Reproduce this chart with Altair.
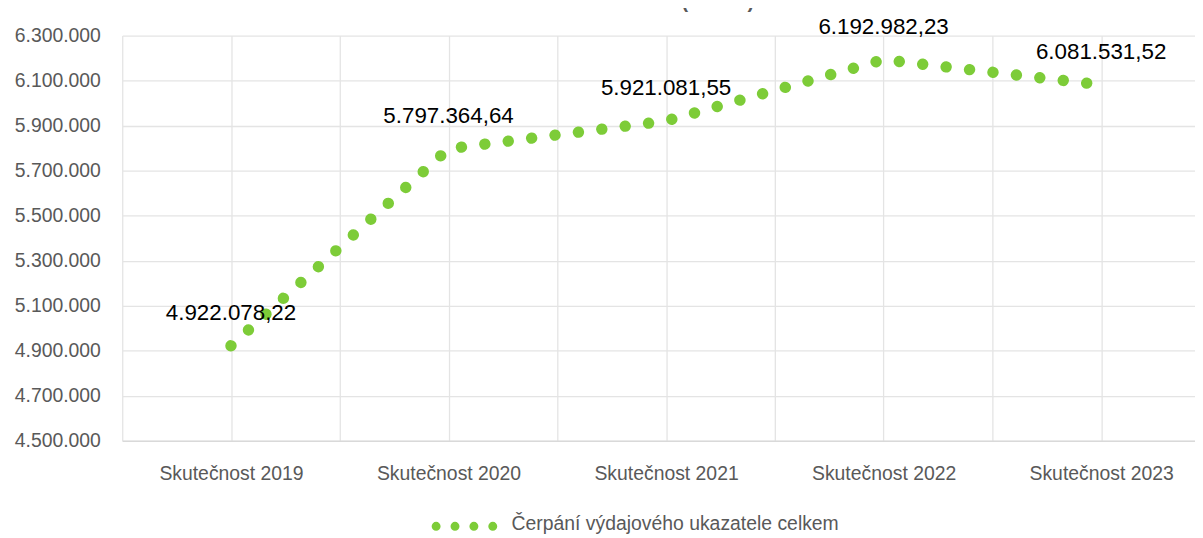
import altair as alt
import pandas as pd

# ---- data -------------------------------------------------------------
categories = ["Skutečnost 2019", "Skutečnost 2020", "Skutečnost 2021",
              "Skutečnost 2022", "Skutečnost 2023"]
values = [4922078.22, 5797364.64, 5921081.55, 6192982.23, 6081531.52]
series_name = "Čerpání výdajového ukazatele celkem"
title_text = "Plnění 2019–2023 (tis. Kč)"
y_ticks = [4500000, 4700000, 4900000, 5100000, 5300000, 5500000,
           5700000, 5900000, 6100000, 6300000]
x_grid = [-0.5, 0, 0.5, 1, 1.5, 2, 2.5, 3, 3.5, 4]


def cz(v):
    s = f"{v:,.2f}"
    return s.replace(",", "X").replace(".", ",").replace("X", ".")


df = pd.DataFrame({
    "idx": list(range(len(categories))),
    "kategorie": categories,
    "hodnota": values,
    "popisek": [cz(v) for v in values],
})
leg_df = pd.DataFrame({"legenda": [series_name], "titul": [title_text]})

GREEN = "#7dcc38"
FONT = "Liberation Sans"
W, H = 1080, 408

cat_js = "[" + ",".join("'" + c + "'" for c in categories) + "]"

x_enc = alt.X(
    "idx:Q",
    scale=alt.Scale(domain=[-0.5, -0.5 + W / 219], nice=False, zero=False),
    axis=alt.Axis(
        values=x_grid, title=None, ticks=False, grid=True,
        gridColor="#e4e4e4", gridWidth=1.3,
        domainColor="#d9d9d9", domainWidth=1.5,
        labelExpr=f"datum.value % 1 === 0 ? {cat_js}[datum.value] : ''",
        labelFont=FONT, labelFontSize=19.5, labelColor="#595959",
        labelPadding=24, labelOverlap=False,
    ),
)
y_enc = alt.Y(
    "hodnota:Q",
    scale=alt.Scale(domain=[4500000, 6300000], nice=False, zero=False),
    axis=alt.Axis(
        values=y_ticks, title=None, ticks=False, domain=False, grid=True,
        gridColor="#e4e4e4", gridWidth=1.3,
        labelExpr="replace(replace(format(datum.value, ','), ',', '.'), ',', '.')",
        labelFont=FONT, labelFontSize=19.5, labelColor="#595959",
        labelPadding=22,
    ),
)

line = alt.Chart(df).mark_line(
    interpolate="linear", color=GREEN, strokeWidth=11.5,
    strokeDash=[0.01, 23.73], strokeCap="round", strokeJoin="round",
).encode(x=x_enc, y=y_enc)

labels = alt.Chart(df).mark_text(
    dy=-33, font=FONT, fontSize=22.5, color="#000000", baseline="middle",
).encode(x=alt.X("idx:Q"), y=alt.Y("hodnota:Q"), text="popisek:N")

leg_sym = alt.Chart(leg_df).mark_rule(
    color=GREEN, strokeWidth=9, strokeDash=[0.01, 19], strokeCap="round",
).encode(x=alt.value(316), x2=alt.value(375), y=alt.value(494))

leg_txt = alt.Chart(leg_df).mark_text(
    align="left", baseline="middle", font=FONT, fontSize=19.5, color="#595959",
).encode(x=alt.value(392), y=alt.value(492), text="legenda:N")

title = alt.Chart(leg_df).mark_text(
    align="center", baseline="alphabetic", font=FONT, fontSize=20,
    fontWeight="bold", color="#595959",
).encode(x=alt.value(514), y=alt.value(-28), text="titul:N")

chart = alt.layer(line, labels, leg_sym, leg_txt, title).properties(
    width=W, height=H,
    autosize=alt.AutoSizeParams(type="none"),
    padding={"left": 115, "top": 26, "right": 0, "bottom": 96},
).configure_view(stroke=None)

chart.save("out.html", embed_options={"renderer": "svg", "actions": False})
